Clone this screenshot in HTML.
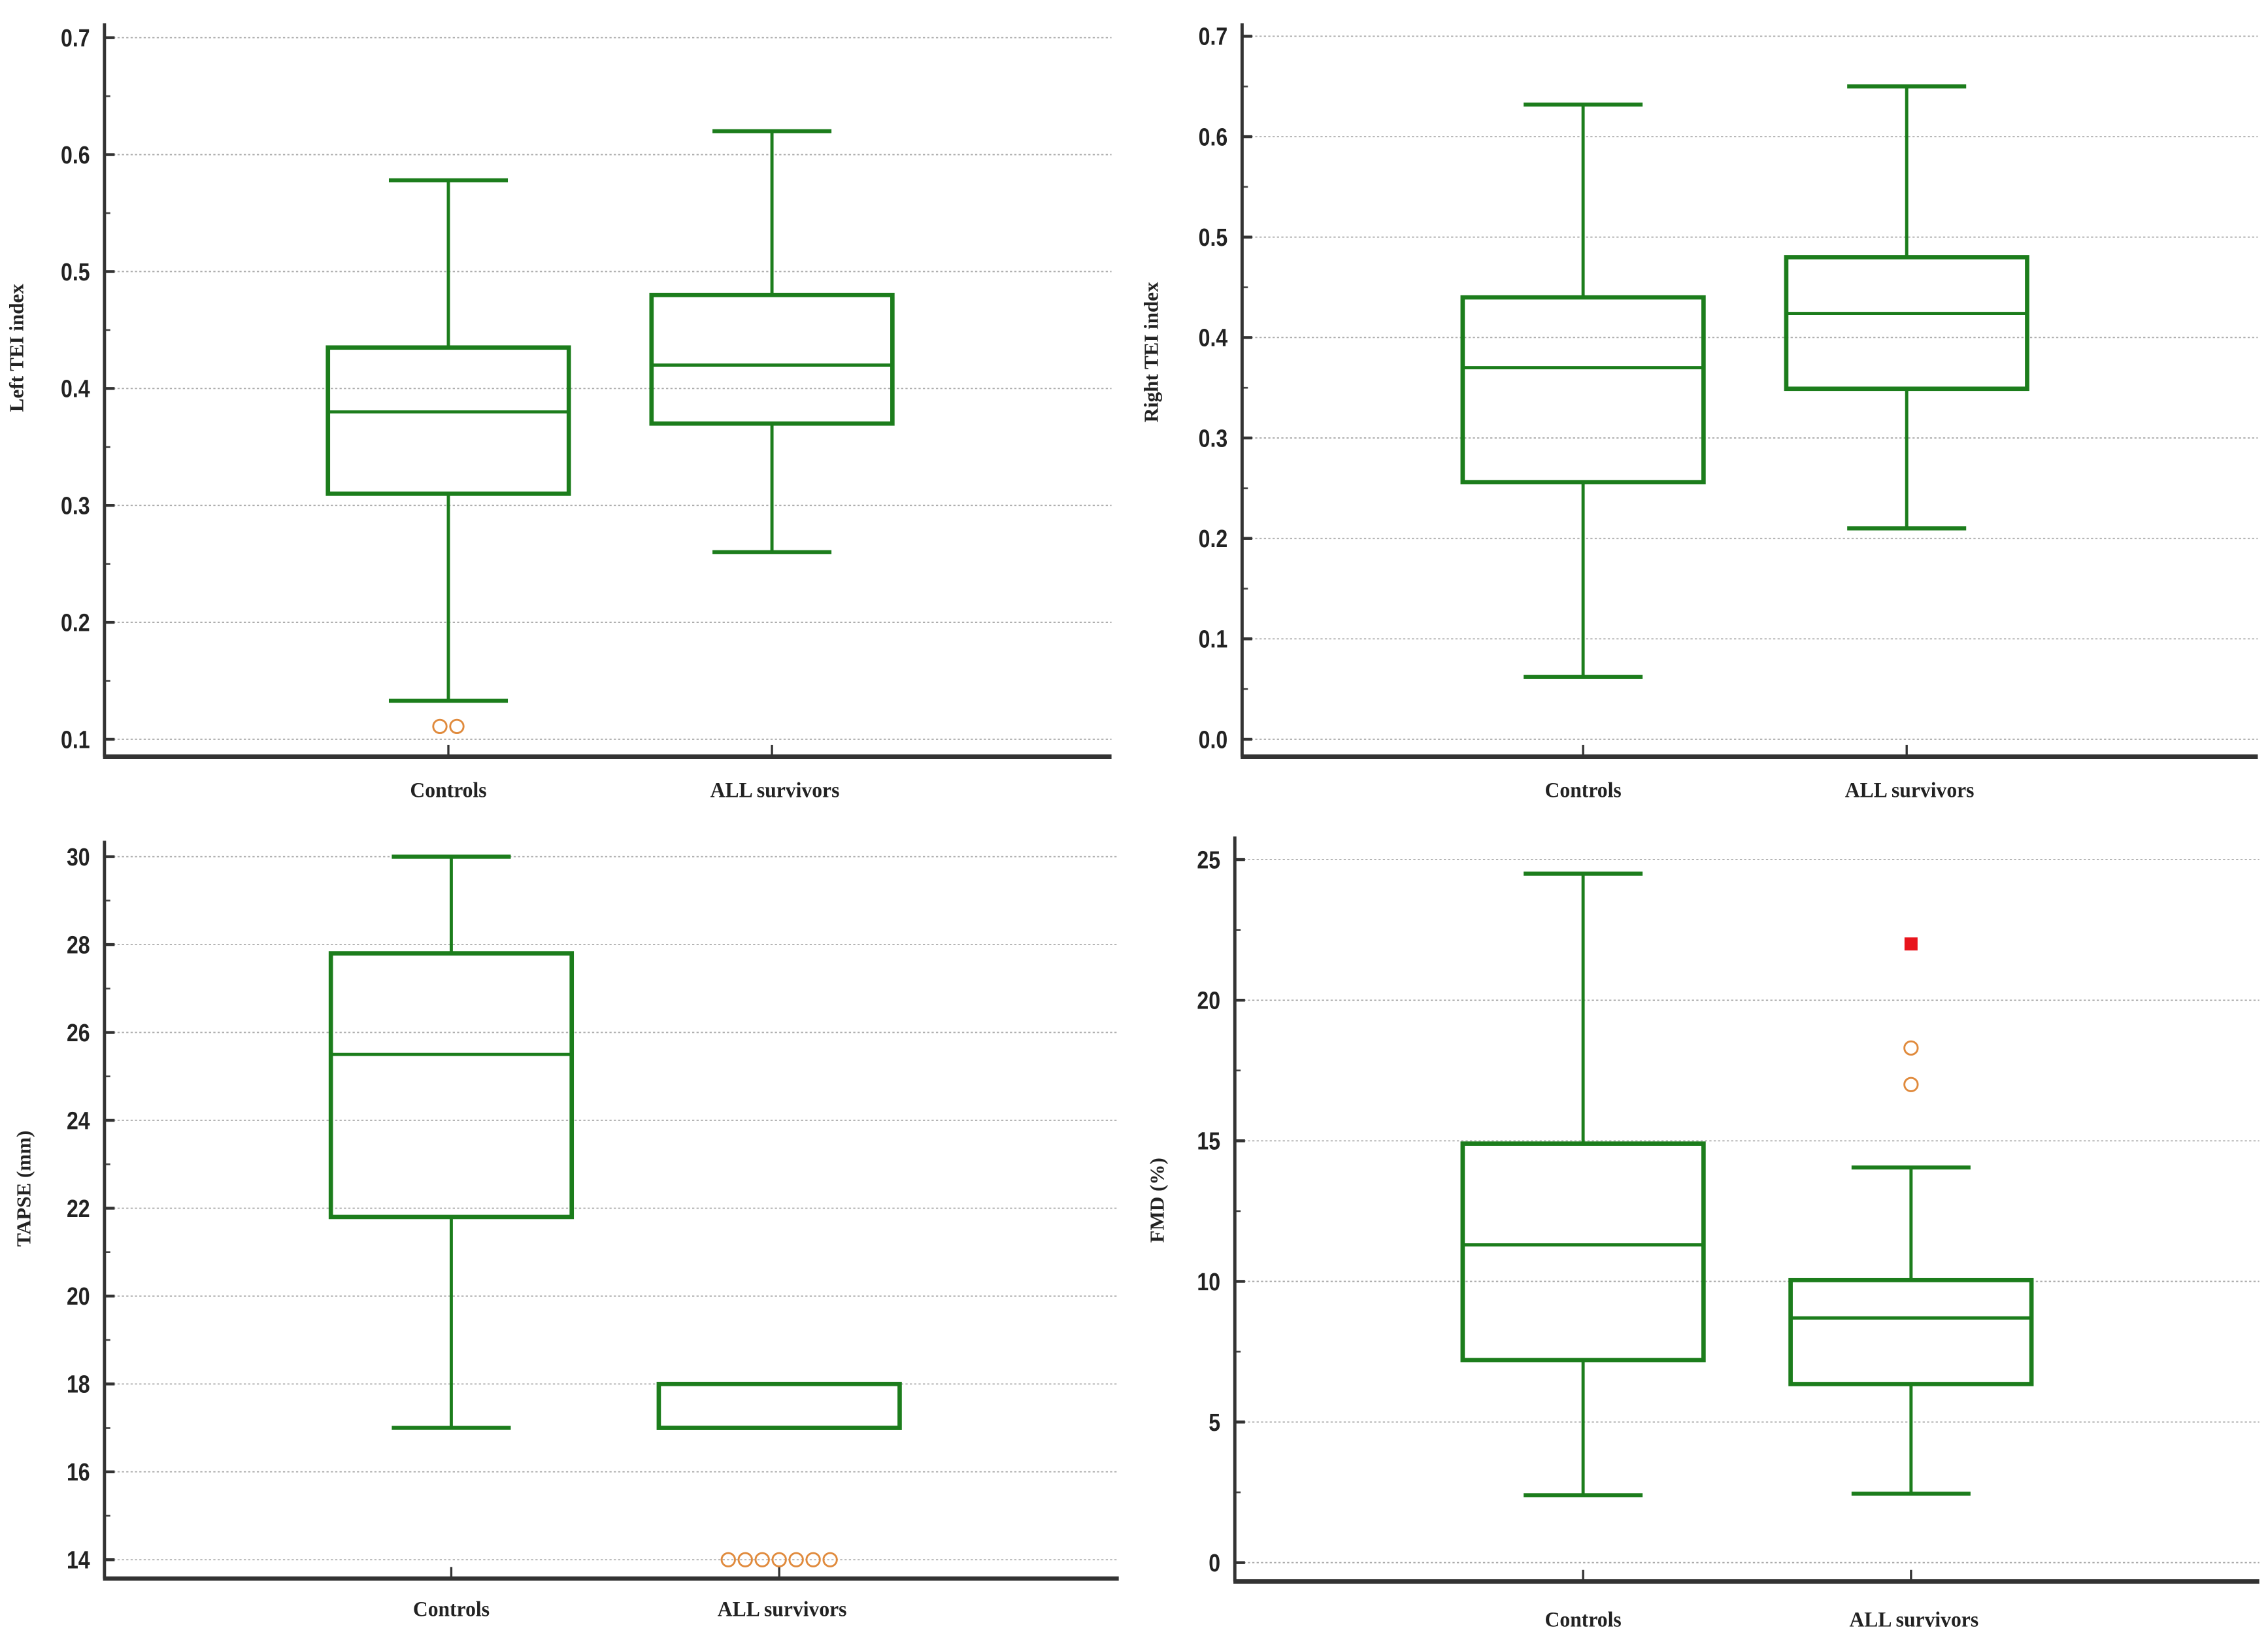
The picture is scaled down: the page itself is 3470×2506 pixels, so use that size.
<!DOCTYPE html>
<html><head><meta charset="utf-8">
<style>
html,body{margin:0;padding:0;background:#fff;}
svg{display:block;}
text{font-family:"Liberation Sans",sans-serif;}
</style></head>
<body>
<svg id="fig" width="3470" height="2506" viewBox="0 0 1563 1130" preserveAspectRatio="none" xmlns="http://www.w3.org/2000/svg"></svg>
<script>
// Category labels
const categories = ["Controls", "ALL survivors"];
// Panel A: Left TEI index  [low whisker, Q1, median, Q3, high whisker]
const leftTeiControls = [0.133, 0.31, 0.38, 0.435, 0.578];
const leftTeiAll = [0.26, 0.37, 0.42, 0.48, 0.62];
const leftTeiOutliersControls = [0.111, 0.111];
const leftTeiOutliersAll = [];
const leftTeiTicks = ["0.1","0.2","0.3","0.4","0.5","0.6","0.7"];
// Panel B: Right TEI index
const rightTeiControls = [0.062, 0.256, 0.37, 0.44, 0.632];
const rightTeiAll = [0.21, 0.349, 0.424, 0.48, 0.65];
const rightTeiTicks = ["0.0","0.1","0.2","0.3","0.4","0.5","0.6","0.7"];
// Panel C: TAPSE (mm)
const tapseControls = [17, 21.8, 25.5, 27.8, 30];
const tapseAll = [17, 17, 17, 18, 18];
const tapseOutliersAll = [14, 14, 14, 14, 14, 14, 14];
const tapseTicks = ["14","16","18","20","22","24","26","28","30"];
// Panel D: FMD (%)
const fmdControls = [2.4, 7.2, 11.3, 14.9, 24.5];
const fmdAll = [2.45, 6.35, 8.7, 10.05, 14.05];
const fmdOutliersAll = [18.3, 17.0];
const fmdFarOutliersAll = [22.0];
const fmdTicks = ["0","5","10","15","20","25"];

const NS = "http://www.w3.org/2000/svg";
const svg = document.getElementById("fig");
const GREEN = "#1c7d1c";
function mk(tag, attrs, parent) {
  const e = document.createElementNS(NS, tag);
  for (const k in attrs) e.setAttribute(k, attrs[k]);
  (parent || svg).appendChild(e);
  return e;
}

function panel(p) {
  const g = mk("g", {});
  
  
  const ticks = p.ticks.map(Number);
  const vmin = ticks[0], vmax = ticks[ticks.length - 1];
  const y = v => p.yBot + (v - vmin) / (vmax - vmin) * (p.yTop - p.yBot);
  const step = ticks[1] - ticks[0];
  // grid + ticks
  p.ticks.forEach((t, i) => {
    const v = ticks[i], yy = y(v);
    const gl = mk("line", {x1: p.x0 + 6, x2: p.x1, y1: yy, y2: yy, stroke: "#aaa", "stroke-width": 0.8, "stroke-dasharray": "1.5,1.5"}, g);
    
    
    mk("line", {x1: p.x0, x2: p.x0 + 7, y1: yy, y2: yy, stroke: "#333", "stroke-width": 2}, g);
    const tx = mk("text", {x: 0, y: 0, "font-size": 17, "font-weight": "bold", "text-anchor": "end", fill: "#222",
      transform: `translate(${p.x0 - 10},${yy + 6}) scale(0.85,1)`}, g);
    tx.textContent = t;
    
    
    if (i < ticks.length - 1) {
      const ym = y(v + step / 2);
      mk("line", {x1: p.x0, x2: p.x0 + 4, y1: ym, y2: ym, stroke: "#444", "stroke-width": 1.2}, g);
    }
  });
  // axes
  const ya = mk("line", {x1: p.x0, x2: p.x0, y1: p.yAxTop, y2: p.yAx, stroke: "#333", "stroke-width": 2.2}, g);
  
  
  const xa = mk("line", {x1: p.x0 - 1, x2: p.x1, y1: p.yAx, y2: p.yAx, stroke: "#333", "stroke-width": 3}, g);
  
  
  // y title
  const yt = mk("text", {x: 0, y: 0, "font-size": 14, "font-weight": "bold", "text-anchor": "middle", fill: "#222",
    style: "font-family:'Liberation Serif',serif", transform: `translate(${p.ylx},${p.yly}) rotate(-90)`}, g);
  yt.textContent = p.title;
  
  
  // boxes
  p.boxes.forEach((b, i) => {
    const cx = p.cx[i], hw = 83, cw = 41;
    const bg = mk("g", {stroke: GREEN, fill: "none"}, g);
    
    
    mk("line", {x1: cx, x2: cx, y1: p.yAx, y2: p.yAx - 8, stroke: "#333", "stroke-width": 1.5}, g);
    mk("line", {x1: cx, x2: cx, y1: y(b[0]), y2: y(b[1]), "stroke-width": 2.2}, bg);
    mk("line", {x1: cx, x2: cx, y1: y(b[3]), y2: y(b[4]), "stroke-width": 2.2}, bg);
    mk("line", {x1: cx - cw, x2: cx + cw, y1: y(b[0]), y2: y(b[0]), "stroke-width": 2.8}, bg);
    mk("line", {x1: cx - cw, x2: cx + cw, y1: y(b[4]), y2: y(b[4]), "stroke-width": 2.8}, bg);
    mk("rect", {x: cx - hw, y: y(b[3]), width: 2 * hw, height: Math.max(0.5, y(b[1]) - y(b[3])), "stroke-width": 3}, bg);
    mk("line", {x1: cx - hw, x2: cx + hw, y1: y(b[2]), y2: y(b[2]), "stroke-width": 2.2}, bg);
    const lab = mk("text", {x: 0, y: 0, "font-size": 15, "font-weight": "bold", "text-anchor": "middle", fill: "#222",
      style: "font-family:'Liberation Serif',serif", transform: `translate(${cx + (i ? 2 : 0)},${p.labY}) scale(0.95,1)`}, g);
    lab.textContent = categories[i];
    
    
    const outs = p.outliers[i] || [];
    outs.forEach((v, k) => {
      const ox = cx + (k - (outs.length - 1) / 2) * (p.outSpread ? 11.7 : 0);
      const c = mk("circle", {cx: ox, cy: y(v), r: 4.6, fill: "none", stroke: "#e08a3c", "stroke-width": 1.3}, g);
      
      
    });
    (p.far[i] || []).forEach(v => {
      const s = mk("rect", {x: cx - 4.5, y: y(v) - 4.5, width: 9, height: 9, fill: "#e8141c"}, g);
      
      
    });
  });
}

panel({name: "left-tei-panel", title: "Left TEI index", ticks: leftTeiTicks, x0: 72, x1: 766, yTop: 26, yBot: 510, yAx: 522, yAxTop: 16,
  cx: [309, 532], boxes: [leftTeiControls, leftTeiAll], outliers: [leftTeiOutliersControls, leftTeiOutliersAll], far: [[], []],
  outSpread: true, ylx: 16, yly: 240, labY: 550});
panel({name: "right-tei-panel", title: "Right TEI index", ticks: rightTeiTicks, x0: 856, x1: 1556, yTop: 25, yBot: 510, yAx: 522, yAxTop: 16,
  cx: [1091, 1314], boxes: [rightTeiControls, rightTeiAll], outliers: [[], []], far: [[], []],
  ylx: 798, yly: 243, labY: 550});
panel({name: "tapse-panel", title: "TAPSE (mm)", ticks: tapseTicks, x0: 72, x1: 771, yTop: 591, yBot: 1076, yAx: 1089, yAxTop: 580,
  cx: [311, 537], boxes: [tapseControls, tapseAll], outliers: [[], tapseOutliersAll], far: [[], []],
  outSpread: true, ylx: 21, yly: 820, labY: 1115});
panel({name: "fmd-panel", title: "FMD (%)", ticks: fmdTicks, x0: 851, x1: 1557, yTop: 593, yBot: 1078, yAx: 1091, yAxTop: 577,
  cx: [1091, 1317], boxes: [fmdControls, fmdAll], outliers: [[], fmdOutliersAll], far: [[], fmdFarOutliersAll],
  outSpread: false, ylx: 802, yly: 828, labY: 1122});
</script>
</body></html>
